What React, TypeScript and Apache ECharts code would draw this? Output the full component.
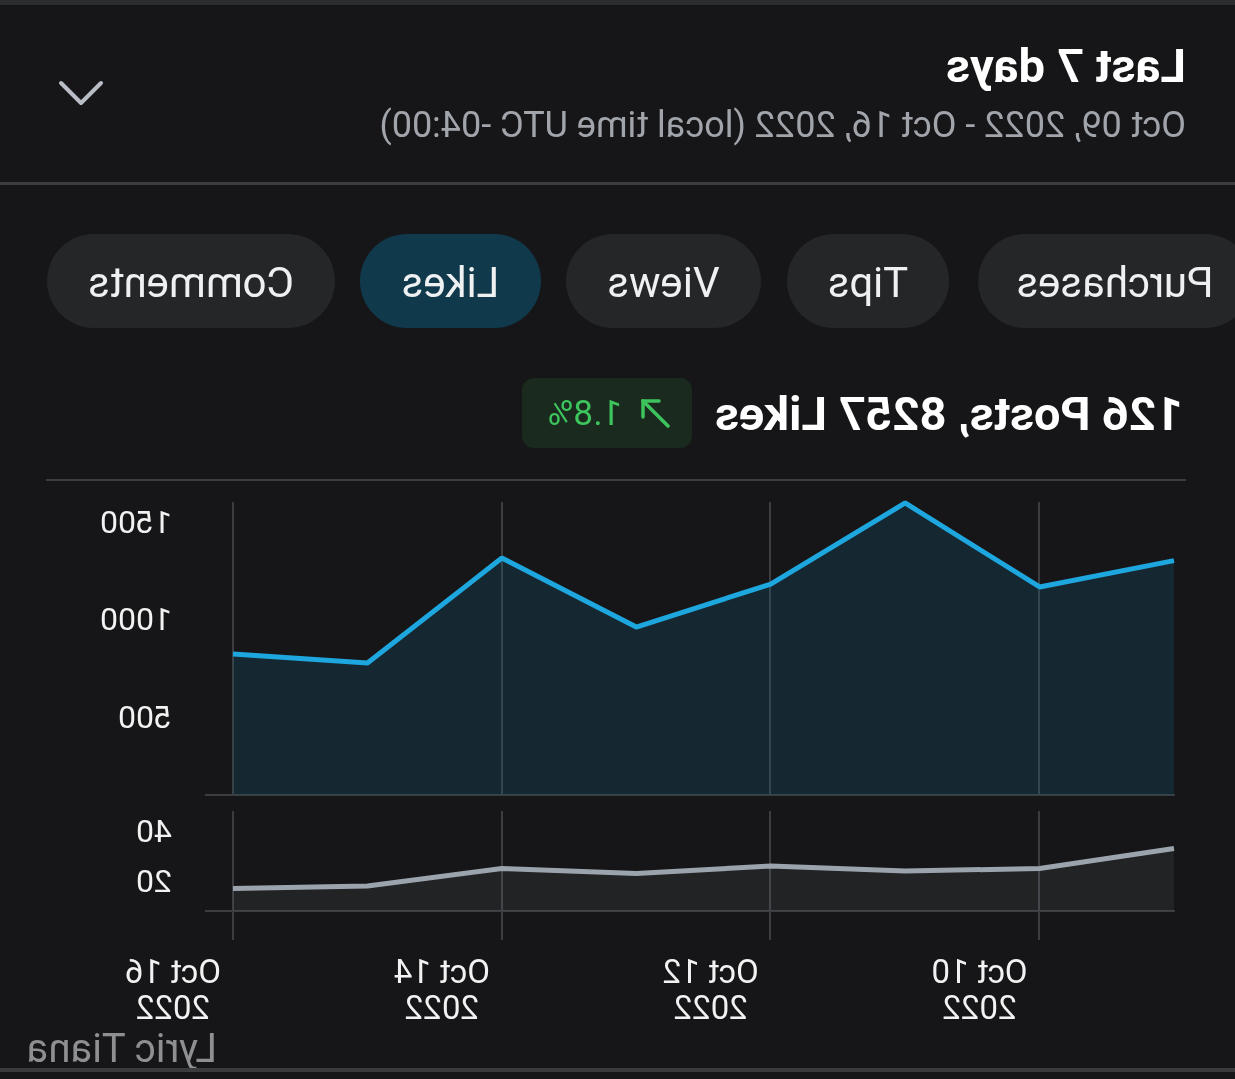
import React, { useEffect, useRef } from "react";
import * as echarts from "echarts";

const dates = ["Oct 9", "Oct 10", "Oct 11", "Oct 12", "Oct 13", "Oct 14", "Oct 15", "Oct 16"];
const yearLabel = "2022";
const likes = [1300, 1165, 1595, 1180, 960, 1313, 776, 822];
const posts = [33, 25, 24, 26, 23, 25, 18, 17];
const likesTickLabels = [500, 1000, 1500];
const postsTickLabels = [20, 40];
const tabs = ["Purchases", "Tips", "Views", "Likes", "Comments"];
const activeTab = "Likes";
const title = "Last 7 days";
const subtitle = "Oct 09, 2022 - Oct 16, 2022 (local time UTC -04:00)";
const summary = "126 Posts, 8257 Likes";
const change = "1.8%";
const watermark = "Lyric Tiana";

const FONT = "Roboto, 'Noto Sans', sans-serif";
const BG = "#161618";
const LINE = "#3b3d40";

export default function App() {
  const ref = useRef<HTMLDivElement>(null);

  useEffect(() => {
    document.body.style.margin = "0";
    document.body.style.background = BG;
    const chart = echarts.init(ref.current!, undefined, { renderer: "svg", width: 1235, height: 1079 });

    // pill layout (x, width) in unmirrored coordinates
    const pillBoxes = [
      [-17, 274],
      [286, 162],
      [474, 195],
      [694, 181],
      [900, 288],
    ];
    const pillGraphics: any[] = [];
    tabs.forEach((t, i) => {
      const [px, pw] = pillBoxes[i];
      const active = t === activeTab;
      pillGraphics.push({
        type: "rect",
        shape: { x: px, y: 234, width: pw, height: 94, r: 47 },
        style: { fill: active ? "#103a4c" : "#252628" },
      });
      pillGraphics.push({
        type: "text",
        style: {
          text: t,
          x: px + pw / 2,
          y: 282,
          fill: "#eef0f2",
          fontSize: 42,
          fontFamily: FONT,
          align: "center",
          verticalAlign: "middle",
        },
      });
    });

    const interval2 = (index: number) => index % 2 === 1;

    const option: any = {
      animation: false,
      backgroundColor: BG,
      grid: [
        { left: 61, right: 233, top: 502, height: 293 },
        { left: 61, right: 233, top: 811, height: 100 },
      ],
      xAxis: [
        {
          type: "category",
          gridIndex: 0,
          data: dates,
          boundaryGap: false,
          axisLine: { show: true, lineStyle: { color: LINE, width: 2 } },
          axisTick: { show: false },
          axisLabel: { show: false },
          splitLine: { show: true, interval: interval2, lineStyle: { color: LINE, width: 2 } },
        },
        {
          type: "category",
          gridIndex: 1,
          data: dates,
          boundaryGap: false,
          axisLine: { show: true, lineStyle: { color: LINE, width: 2 } },
          axisTick: { show: true, length: 29, interval: interval2, lineStyle: { color: LINE, width: 2 } },
          axisLabel: {
            show: true,
            interval: interval2,
            formatter: (v: string) => `${v}\n${yearLabel}`,
            color: "#f2f2f2",
            fontSize: 33,
            fontFamily: FONT,
            lineHeight: 36,
            margin: 42,
            padding: [0, 0, 0, 120],
          },
          splitLine: { show: true, interval: interval2, lineStyle: { color: LINE, width: 2 } },
        },
      ],
      yAxis: [
        {
          type: "value",
          gridIndex: 0,
          position: "right",
          min: 100,
          max: 1600,
          interval: 100,
          axisLine: { show: false },
          axisTick: { show: false },
          splitLine: { show: false },
          axisLabel: {
            margin: 61,
            align: "left",
            color: "#f2f2f2",
            fontSize: 32,
            fontFamily: FONT,
            formatter: (v: number) => (likesTickLabels.includes(v) ? String(v) : ""),
          },
        },
        {
          type: "value",
          gridIndex: 1,
          position: "right",
          min: 8,
          max: 48,
          interval: 4,
          axisLine: { show: false },
          axisTick: { show: false },
          splitLine: { show: false },
          axisLabel: {
            margin: 61,
            align: "left",
            color: "#f2f2f2",
            fontSize: 32,
            fontFamily: FONT,
            formatter: (v: number) => (postsTickLabels.includes(v) ? String(v) : ""),
          },
        },
      ],
      series: [
        {
          type: "line",
          xAxisIndex: 0,
          yAxisIndex: 0,
          data: likes,
          symbol: "none",
          lineStyle: { color: "#1ea6de", width: 5 },
          areaStyle: { color: "rgba(16,115,160,0.26)", origin: "start" },
          z: 1,
        },
        {
          type: "line",
          xAxisIndex: 1,
          yAxisIndex: 1,
          data: posts,
          symbol: "none",
          lineStyle: { color: "#9ba4ad", width: 5 },
          areaStyle: { color: "rgba(160,170,180,0.13)", origin: "start" },
          z: 1,
        },
      ],
      graphic: [
        { type: "rect", shape: { x: 0, y: 0, width: 1235, height: 5 }, style: { fill: "#2c2d30" } },
        {
          type: "text",
          style: { text: title, x: 49, y: 65, fill: "#ffffff", fontSize: 47, fontWeight: "bold", fontFamily: FONT, align: "left", verticalAlign: "middle" },
        },
        {
          type: "text",
          style: { text: subtitle, x: 49, y: 125, fill: "#a1a5ab", fontSize: 36, fontFamily: FONT, align: "left", verticalAlign: "middle" },
        },
        {
          type: "polyline",
          shape: { points: [[1134, 83], [1154, 103], [1174, 83]] },
          style: { stroke: "#b9bec6", lineWidth: 4, fill: "none", lineCap: "round", lineJoin: "round" },
        },
        { type: "rect", shape: { x: 0, y: 182, width: 1235, height: 3 }, style: { fill: LINE } },
        ...pillGraphics,
        {
          type: "text",
          style: { text: summary, x: 52, y: 413, fill: "#ffffff", fontSize: 47, fontWeight: "bold", fontFamily: FONT, align: "left", verticalAlign: "middle" },
        },
        { type: "rect", shape: { x: 543, y: 378, width: 170, height: 70, r: 12 }, style: { fill: "#1a2a1f" } },
        {
          type: "line",
          shape: { x1: 567, y1: 426, x2: 592, y2: 401 },
          style: { stroke: "#3ec45c", lineWidth: 3.5, lineCap: "round" },
        },
        {
          type: "polyline",
          shape: { points: [[576, 401], [592, 401], [592, 417]] },
          style: { stroke: "#3ec45c", lineWidth: 3.5, fill: "none", lineCap: "round", lineJoin: "miter" },
        },
        {
          type: "text",
          style: { text: change, x: 613, y: 413, fill: "#3ec45c", fontSize: 35, fontFamily: FONT, align: "left", verticalAlign: "middle" },
        },
        { type: "rect", shape: { x: 49, y: 479, width: 1140, height: 2 }, style: { fill: LINE } },
        { type: "line", shape: { x1: 1002, y1: 795, x2: 1030, y2: 795 }, style: { stroke: LINE, lineWidth: 2 } },
        { type: "line", shape: { x1: 1002, y1: 911, x2: 1030, y2: 911 }, style: { stroke: LINE, lineWidth: 2 } },
        {
          type: "text",
          style: { text: watermark, x: 1018, y: 1048, fill: "#8e8f91", fontSize: 40, fontFamily: FONT, align: "left", verticalAlign: "middle" },
        },
        { type: "rect", shape: { x: 0, y: 1068, width: 1235, height: 4 }, style: { fill: "#3a3b3e" } },
      ],
    };
    chart.setOption(option);
    return () => chart.dispose();
  }, []);

  return (
    <div
      style={{
        position: "fixed",
        left: 0,
        top: 0,
        width: 1235,
        height: 1079,
        background: BG,
        transform: "scaleX(-1)",
      }}
    >
      <div ref={ref} style={{ width: 1235, height: 1079 }} />
    </div>
  );
}
